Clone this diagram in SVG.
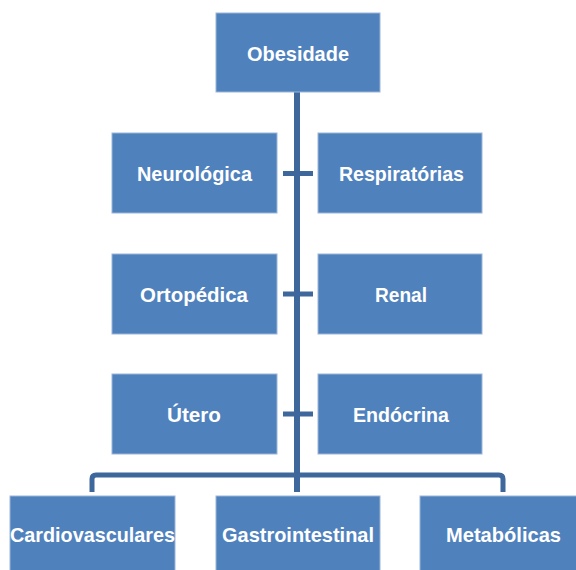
<svg xmlns="http://www.w3.org/2000/svg" width="576" height="570" viewBox="0 0 576 570">
<style>
.box{fill:#4F81BD;stroke:#9CB5D8;stroke-width:1}
.lbl{fill:#FFFFFF;font-family:"Liberation Sans",Arial,sans-serif;font-weight:bold;font-size:21px;text-anchor:middle}
.con{fill:none;stroke:#3E679C;stroke-linecap:butt}
</style>
<rect width="576" height="570" fill="#FFFFFF"/>
<g id="connectors">
<line class="con" x1="297" y1="92" x2="297" y2="492" stroke-width="6"/>
<line class="con" x1="283" y1="173.5" x2="313" y2="173.5" stroke-width="5"/>
<line class="con" x1="283" y1="294" x2="313" y2="294" stroke-width="5"/>
<line class="con" x1="283" y1="414" x2="313" y2="414" stroke-width="5"/>
<path class="con" d="M92,492 V479 Q92,475 96,475 H499 Q503,475 503,479 V492" stroke-width="5"/>
</g>
<g id="obesidade"><rect class="box" x="216" y="13" width="164" height="79"/><text class="lbl" x="298" y="61" textLength="102" lengthAdjust="spacingAndGlyphs">Obesidade</text></g>
<g id="neurologica"><rect class="box" x="112" y="133" width="165" height="80"/><text class="lbl" x="194.5" y="181" textLength="115" lengthAdjust="spacingAndGlyphs">Neurológica</text></g>
<g id="respiratorias"><rect class="box" x="318" y="133" width="164" height="80"/><text class="lbl" x="401.5" y="181" textLength="125" lengthAdjust="spacingAndGlyphs">Respiratórias</text></g>
<g id="ortopedica"><rect class="box" x="112" y="254" width="165" height="80"/><text class="lbl" x="194" y="302" textLength="108" lengthAdjust="spacingAndGlyphs">Ortopédica</text></g>
<g id="renal"><rect class="box" x="318" y="254" width="164" height="80"/><text class="lbl" x="401" y="302" textLength="52" lengthAdjust="spacingAndGlyphs">Renal</text></g>
<g id="utero"><rect class="box" x="112" y="374" width="165" height="80"/><text class="lbl" x="194" y="422" textLength="54" lengthAdjust="spacingAndGlyphs">Útero</text></g>
<g id="endocrina"><rect class="box" x="318" y="374" width="164" height="80"/><text class="lbl" x="401" y="422" textLength="96" lengthAdjust="spacingAndGlyphs">Endócrina</text></g>
<g id="cardiovasculares"><rect class="box" x="10" y="496" width="165" height="80"/><text class="lbl" x="92.5" y="542" textLength="165" lengthAdjust="spacingAndGlyphs">Cardiovasculares</text></g>
<g id="gastrointestinal"><rect class="box" x="216" y="496" width="164" height="80"/><text class="lbl" x="298" y="542" textLength="152" lengthAdjust="spacingAndGlyphs">Gastrointestinal</text></g>
<g id="metabolicas"><rect class="box" x="420" y="496" width="165" height="80"/><text class="lbl" x="503.5" y="542" textLength="115" lengthAdjust="spacingAndGlyphs">Metabólicas</text></g>
</svg>
